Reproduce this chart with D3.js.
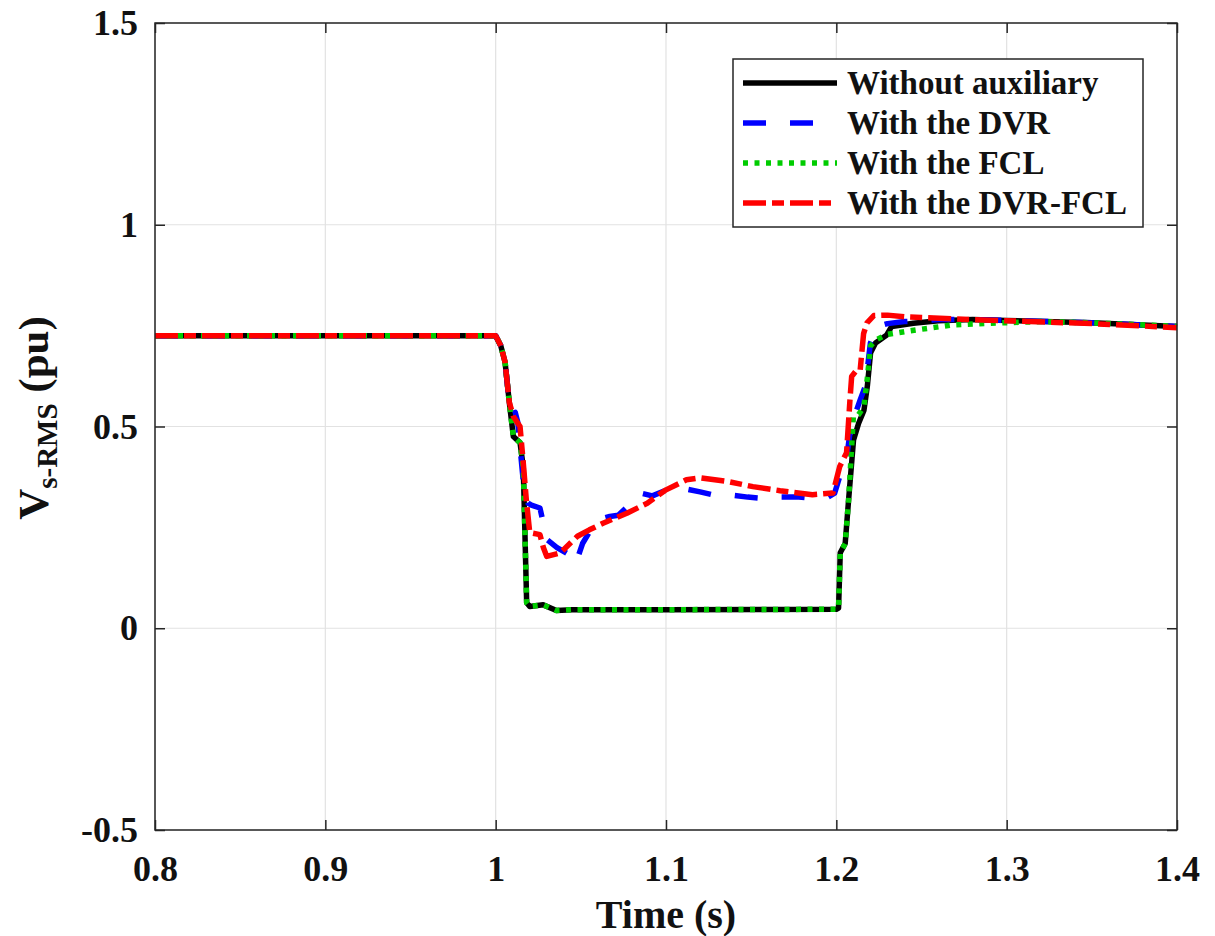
<!DOCTYPE html>
<html>
<head>
<meta charset="utf-8">
<script src="https://cdn.jsdelivr.net/npm/d3@7"></script>
<style>
  body { margin: 0; background: #fff; }
  svg { display: block; font-family: "Liberation Serif", "Times New Roman", serif; font-weight: bold; }
</style>
</head>
<body>
<div id="chart"></div>
<script>
// ---- data ----
const xTicks = [0.8, 0.9, 1.0, 1.1, 1.2, 1.3, 1.4];
const yTicks = [-0.5, 0, 0.5, 1, 1.5];
const seriesNames = ["Without auxiliary", "With the DVR", "With the FCL", "With the DVR-FCL"];

const tWithout = [0.8, 1.0, 1.003, 1.0055, 1.008, 1.0104, 1.0143, 1.0162, 1.0182, 1.020, 1.0279, 1.0357, 1.045, 1.1, 1.2, 1.2013, 1.2023, 1.2052, 1.2072, 1.2101, 1.2131, 1.2162, 1.2182, 1.2201, 1.223, 1.2296, 1.2325, 1.2452, 1.26, 1.28, 1.3, 1.35, 1.4];
const vWithout = [0.725, 0.725, 0.70, 0.66, 0.56, 0.475, 0.46, 0.40, 0.063, 0.054, 0.058, 0.044, 0.046, 0.046, 0.047, 0.05, 0.187, 0.21, 0.318, 0.467, 0.508, 0.54, 0.60, 0.683, 0.707, 0.727, 0.748, 0.756, 0.762, 0.765, 0.763, 0.757, 0.748];

const tDvr = [0.8, 1.0, 1.003, 1.0055, 1.008, 1.0095, 1.0115, 1.013, 1.0145, 1.017, 1.019, 1.021, 1.026, 1.028, 1.030, 1.036, 1.042, 1.047, 1.051, 1.056, 1.061, 1.067, 1.072, 1.077, 1.085, 1.092, 1.100, 1.112, 1.120, 1.128, 1.138, 1.148, 1.157, 1.167, 1.178, 1.186, 1.195, 1.199, 1.202, 1.206, 1.208, 1.211, 1.214, 1.217, 1.220, 1.224, 1.23, 1.24, 1.25, 1.26, 1.28, 1.3, 1.35, 1.4];
const vDvr = [0.725, 0.725, 0.70, 0.66, 0.56, 0.53, 0.535, 0.51, 0.44, 0.33, 0.31, 0.305, 0.298, 0.26, 0.22, 0.20, 0.185, 0.16, 0.21, 0.245, 0.27, 0.277, 0.28, 0.30, 0.335, 0.328, 0.342, 0.345, 0.338, 0.33, 0.33, 0.325, 0.322, 0.325, 0.325, 0.322, 0.325, 0.335, 0.376, 0.42, 0.484, 0.53, 0.566, 0.60, 0.707, 0.748, 0.755, 0.76, 0.762, 0.765, 0.765, 0.763, 0.757, 0.748];

const tFcl = [0.8, 1.0, 1.003, 1.0055, 1.008, 1.0104, 1.0143, 1.0162, 1.0182, 1.020, 1.0279, 1.0357, 1.045, 1.1, 1.2, 1.2013, 1.2023, 1.2052, 1.2072, 1.210, 1.2131, 1.2162, 1.2182, 1.2201, 1.2235, 1.2296, 1.2413, 1.255, 1.2686, 1.298, 1.32, 1.35, 1.4];
const vFcl = [0.725, 0.725, 0.70, 0.66, 0.56, 0.475, 0.46, 0.40, 0.063, 0.054, 0.058, 0.044, 0.046, 0.046, 0.047, 0.05, 0.187, 0.21, 0.318, 0.525, 0.53, 0.55, 0.62, 0.70, 0.715, 0.728, 0.736, 0.744, 0.752, 0.757, 0.76, 0.757, 0.748];

const tDvrFcl = [0.8, 1.0, 1.003, 1.0055, 1.008, 1.0104, 1.0143, 1.016, 1.018, 1.020, 1.026, 1.028, 1.030, 1.038, 1.048, 1.055, 1.063, 1.077, 1.089, 1.100, 1.112, 1.120, 1.136, 1.151, 1.167, 1.186, 1.198, 1.202, 1.206, 1.208, 1.209, 1.212, 1.214, 1.216, 1.218, 1.222, 1.23, 1.24, 1.25, 1.28, 1.3, 1.35, 1.4];
const vDvrFcl = [0.725, 0.725, 0.70, 0.66, 0.56, 0.525, 0.50, 0.42, 0.318, 0.237, 0.232, 0.20, 0.178, 0.187, 0.228, 0.244, 0.26, 0.285, 0.31, 0.343, 0.368, 0.373, 0.364, 0.351, 0.341, 0.331, 0.335, 0.401, 0.435, 0.566, 0.624, 0.64, 0.64, 0.73, 0.757, 0.775, 0.776, 0.772, 0.77, 0.765, 0.762, 0.755, 0.745];

const W = 1215, H = 936;
const margin = { top: 23, right: 38, bottom: 106, left: 155 };
const innerW = W - margin.left - margin.right;
const innerH = H - margin.top - margin.bottom;

const svg = d3.select("#chart").append("svg").attr("width", W).attr("height", H);
const g = svg.append("g").attr("transform", `translate(${margin.left},${margin.top})`);

const x = d3.scaleLinear().domain([0.8, 1.4]).range([0, innerW]);
const y = d3.scaleLinear().domain([-0.5, 1.5]).range([innerH, 0]);

// grid
g.append("g")
  .selectAll("line")
  .data(xTicks)
  .join("line")
  .attr("x1", (d) => x(d)).attr("x2", (d) => x(d))
  .attr("y1", 0).attr("y2", innerH)
  .attr("stroke", "#e2e2e2").attr("stroke-width", 1.2);
g.append("g")
  .selectAll("line")
  .data(yTicks)
  .join("line")
  .attr("x1", 0).attr("x2", innerW)
  .attr("y1", (d) => y(d)).attr("y2", (d) => y(d))
  .attr("stroke", "#e2e2e2").attr("stroke-width", 1.2);

// axes: ticks inside, on all four sides (plain hyphen for negatives, like MATLAB)
const fmt = (d) => String(+d.toFixed(2));
const styleAxis = (sel) => {
  sel.select(".domain").remove();
  sel.selectAll(".tick line").attr("stroke", "#262626").attr("stroke-width", 1.5);
  sel.selectAll(".tick text").attr("fill", "#111").attr("font-size", 36).attr("font-weight", "bold")
    .attr("font-family", '"Liberation Serif", serif');
};
g.append("g").attr("transform", `translate(0,${innerH})`)
  .call(d3.axisBottom(x).tickValues(xTicks).tickFormat(fmt).tickSizeInner(-10).tickSizeOuter(0).tickPadding(25))
  .call(styleAxis);
g.append("g")
  .call(d3.axisTop(x).tickValues(xTicks).tickFormat("").tickSizeInner(-10).tickSizeOuter(0))
  .call(styleAxis);
g.append("g")
  .call(d3.axisLeft(y).tickValues(yTicks).tickFormat(fmt).tickSizeInner(-10).tickSizeOuter(0).tickPadding(17))
  .call(styleAxis);
g.append("g").attr("transform", `translate(${innerW},0)`)
  .call(d3.axisRight(y).tickValues(yTicks).tickFormat("").tickSizeInner(-10).tickSizeOuter(0))
  .call(styleAxis);

// series
const series = [
  { name: seriesNames[0], t: tWithout, v: vWithout, color: "#000000", dash: null },
  { name: seriesNames[1], t: tDvr, v: vDvr, color: "#0000ff", dash: "23,24" },
  { name: seriesNames[2], t: tFcl, v: vFcl, color: "#00cc00", dash: "5,6.5" },
  { name: seriesNames[3], t: tDvrFcl, v: vDvrFcl, color: "#ff0000", dash: "23,6,12,6" },
];

const line = d3.line().x((d) => x(d[0])).y((d) => y(d[1]));
const plot = g.append("g");
series.forEach((s) => {
  plot.append("path")
    .datum(s.t.map((t, i) => [t, s.v[i]]))
    .attr("d", line)
    .attr("fill", "none")
    .attr("stroke", s.color)
    .attr("stroke-width", 5.5)
    .attr("stroke-linejoin", "round")
    .attr("stroke-dasharray", s.dash);
});

// box
g.append("rect").attr("width", innerW).attr("height", innerH)
  .attr("fill", "none").attr("stroke", "#262626").attr("stroke-width", 1.5);

// legend
const lg = svg.append("g").attr("transform", "translate(733,59)");
lg.append("rect").attr("width", 410).attr("height", 168)
  .attr("fill", "#fff").attr("stroke", "#262626").attr("stroke-width", 1.5);
series.forEach((s, i) => {
  const ly = 24 + i * 40;
  lg.append("line").attr("x1", 10).attr("x2", 104).attr("y1", ly).attr("y2", ly)
    .attr("stroke", s.color).attr("stroke-width", 5.5).attr("stroke-dasharray", s.dash);
  lg.append("text").attr("x", 114).attr("y", ly + 11)
    .attr("font-size", 33).attr("fill", "#111").text(s.name);
});

// axis labels
svg.append("text").attr("x", margin.left + innerW / 2).attr("y", 928)
  .attr("text-anchor", "middle").attr("font-size", 40).attr("fill", "#111").text("Time (s)");

const yl = svg.append("text")
  .attr("transform", "translate(48,418) rotate(-90)")
  .attr("text-anchor", "middle").attr("fill", "#111").attr("font-size", 43);
yl.append("tspan").text("V");
yl.append("tspan").attr("font-size", 29).attr("dy", 9).text("s-RMS");
yl.append("tspan").attr("dy", -9).text(" (pu)");
</script>
</body>
</html>
